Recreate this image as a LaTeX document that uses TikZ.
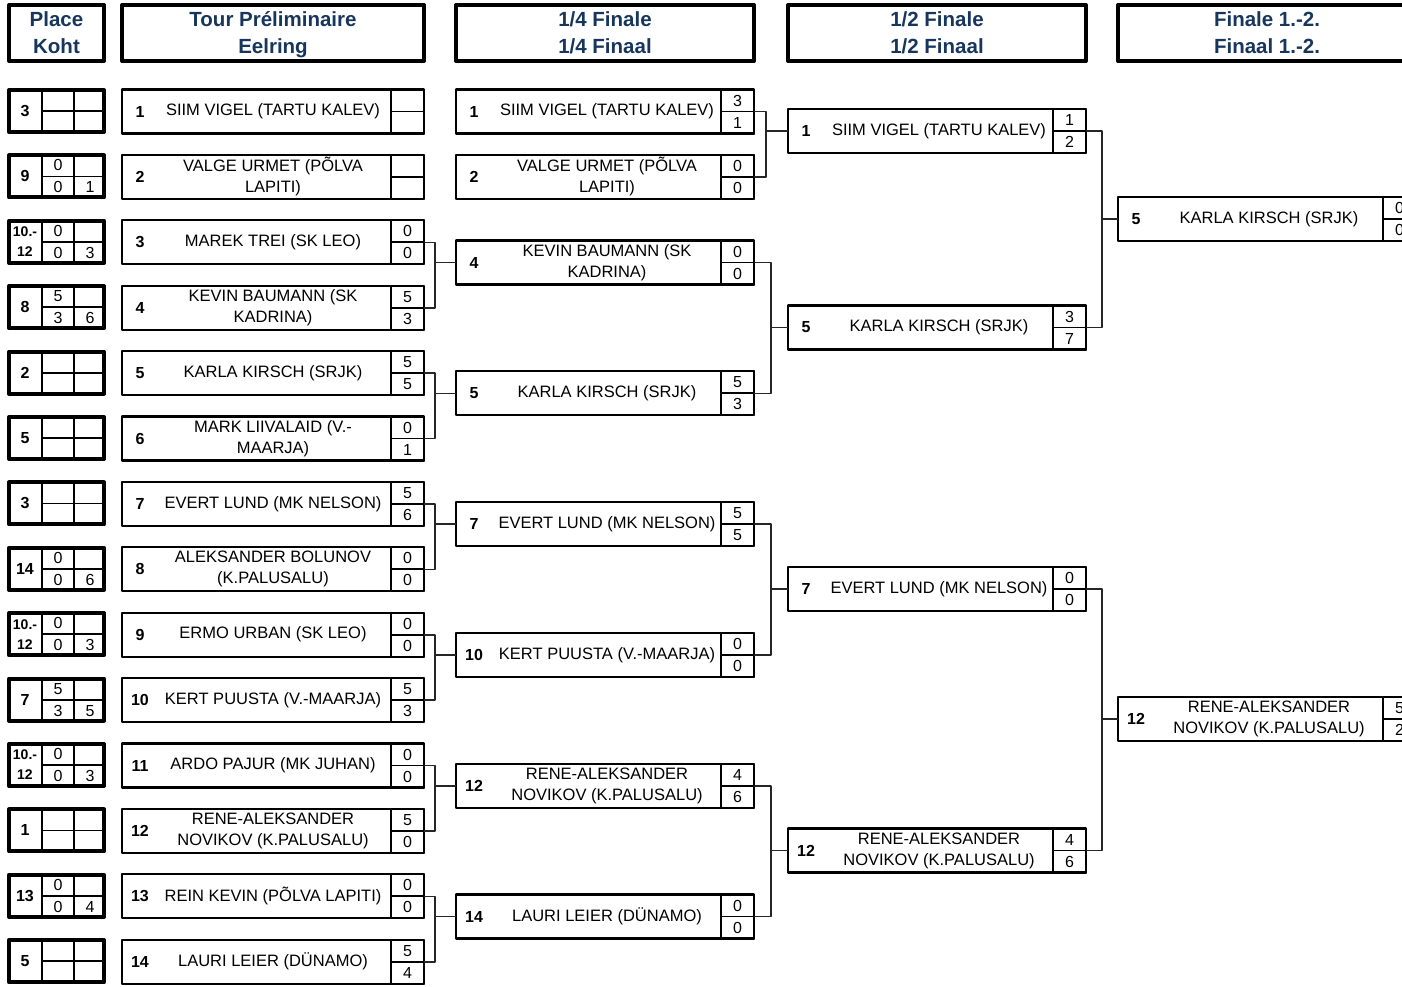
\documentclass[tikz,border=0pt]{standalone}
\usepackage{fontspec}
\setmainfont{Liberation Sans}
\usetikzlibrary{positioning, calc}
\definecolor{head_blue}{RGB}{23,54,93}
\tikzset{
	hdr/.style={draw, line width=4pt, minimum height=56pt, anchor=north west, inner sep=0pt, outer sep=0pt, align=center, text=head_blue, font=\fontsize{20.5}{27}\selectfont\bfseries},
	plbox/.style={draw, line width=4pt, minimum width=95pt, minimum height=42pt, anchor=north west, inner sep=0pt, outer sep=0pt},
	pbox/.style={draw, line width=2.2pt, minimum height=44pt, anchor=north west, inner sep=0pt, outer sep=0pt},
	scell/.style={draw, line width=2pt, minimum width=33pt, minimum height=44pt, anchor=north east, inner sep=0pt, outer sep=0pt},
	cellline/.style={line width=1.8pt},
	conn/.style={line width=1.6pt, black!85},
	pname/.style={align=center, inner sep=0pt, font=\fontsize{16.5}{21}\selectfont},
	seedno/.style={inner sep=0pt, font=\fontsize{16}{20}\selectfont\bfseries},
	sc/.style={inner sep=0pt, font=\fontsize{16}{20}\selectfont}
}
% player box: [width]{name}{x}{top}{seed}{text}{score a}{score b}
\newcommand{\pl}[8][298]{%
	\node[pbox, minimum width=#1] (#2) at (#3,{#4}) {};
	\node[scell] (#2s) at (#2.north east) {};
	\draw[cellline] (#2s.west) -- (#2s.east);
	\node[seedno] (#2n) at ([xshift=18]#2.west) {#5};
	\node[pname] (#2t) at ([xshift=151]#2.west) {#6};
	\node[sc] (#2a) at ([yshift=-11]#2s.north) {#7};
	\node[sc] (#2b) at ([yshift=11]#2s.south) {#8};
}

\begin{document}
\begin{tikzpicture}[x=1pt, y=-1pt, line join=round]
	\clip (0,0) rectangle (1402,986);

	\node[hdr, minimum width=95pt] (hPlace) at (9,5) {Place\\Koht};
	\node[hdr, minimum width=302pt] (hTour) at (122,5) {Tour Pr\smash{é}liminaire\\\smash{Eelring}};
	\node[hdr, minimum width=298pt] (hQuart) at (456,5) {1/4 Finale\\1/4 Finaal};
	\node[hdr, minimum width=298pt] (hSemi) at (788,5) {1/2 Finale\\1/2 Finaal};
	\node[hdr, minimum width=298pt] (hFinal) at (1118,5) {Finale 1.-2.\\Finaal 1.-2.};

	% places
	\foreach \i/\pn/\fs/\ta/\ba/\bb in {1/3/16/{}/{}/{}, 2/9/16/0/0/1, 3/{10.-\\12}/14/0/0/3, 4/8/16/5/3/6,
		5/2/16/{}/{}/{}, 6/5/16/{}/{}/{}, 7/3/16/{}/{}/{}, 8/14/16/0/0/6, 9/{10.-\\12}/14/0/0/3,
		10/7/16/5/3/5, 11/{10.-\\12}/14/0/0/3, 12/1/16/{}/{}/{}, 13/13/16/0/0/4, 14/5/16/{}/{}/{}}{
		\node[plbox] (p\i) at (9,{90+65.4*(\i-1)}) {};
		\draw[cellline] ([xshift=33]p\i.north west) -- ([xshift=33]p\i.south west)
			([xshift=65]p\i.north west) -- ([xshift=65]p\i.south west)
			([xshift=33]p\i.west) -- (p\i.east);
		\node[seedno, align=center, font=\fontsize{\fs}{20}\selectfont\bfseries] (p\i n) at ([xshift=16]p\i.west) {\pn};
		\node[sc] (p\i a) at ([xshift=49,yshift=11]p\i.west) {\ta};
		\node[sc] (p\i b) at ([xshift=49,yshift=-11]p\i.west) {\ba};
		\node[sc] (p\i c) at ([xshift=81,yshift=-11]p\i.west) {\bb};
	}

	% preliminary round
	\foreach \i/\nm/\a/\b in {1/{SIIM VIGEL (TARTU KALEV)}/{}/{}, 2/{VALGE URMET (PÕLVA\\LAPITI)}/{}/{},
		3/{MAREK TREI (SK LEO)}/0/0, 4/{KEVIN BAUMANN (SK\\KADRINA)}/5/3,
		5/{KARLA KIRSCH (SRJK)}/5/5, 6/{MARK LIIVALAID (V.-\\MAARJA)}/0/1,
		7/{EVERT LUND (MK NELSON)}/5/6, 8/{ALEKSANDER BOLUNOV\\(K.PALUSALU)}/0/0,
		9/{ERMO URBAN (SK LEO)}/0/0, 10/{KERT PUUSTA (V.-MAARJA)}/5/3,
		11/{ARDO PAJUR (MK JUHAN)}/0/0, 12/{RENE-ALEKSANDER\\NOVIKOV (K.PALUSALU)}/5/0,
		13/{REIN KEVIN (PÕLVA LAPITI)}/0/0, 14/{LAURI LEIER (DÜNAMO)}/5/4}
		\pl[302]{t\i}{122}{89.5+65.4*(\i-1)}{\i}{\nm}{\a}{\b};

	% quarter finals
	\pl{q1}{456}{89.5}{1}{SIIM VIGEL (TARTU KALEV)}{3}{1}
	\pl{q2}{456}{154.9}{2}{VALGE URMET (PÕLVA\\LAPITI)}{0}{0}
	\pl{q3}{456}{240.5}{4}{KEVIN BAUMANN (SK\\KADRINA)}{0}{0}
	\pl{q4}{456}{371.3}{5}{KARLA KIRSCH (SRJK)}{5}{3}
	\pl{q5}{456}{502.1}{7}{EVERT LUND (MK NELSON)}{5}{5}
	\pl{q6}{456}{632.9}{10}{KERT PUUSTA (V.-MAARJA)}{0}{0}
	\pl{q7}{456}{763.7}{12}{RENE-ALEKSANDER\\NOVIKOV (K.PALUSALU)}{4}{6}
	\pl{q8}{456}{894.5}{14}{LAURI LEIER (DÜNAMO)}{0}{0}

	% semi finals
	\pl{s1}{788}{109}{1}{SIIM VIGEL (TARTU KALEV)}{1}{2}
	\pl{s2}{788}{305.5}{5}{KARLA KIRSCH (SRJK)}{3}{7}
	\pl{s3}{788}{567}{7}{EVERT LUND (MK NELSON)}{0}{0}
	\pl{s4}{788}{828.5}{12}{RENE-ALEKSANDER\\NOVIKOV (K.PALUSALU)}{4}{6}

	% final
	\pl{f1}{1118}{197}{5}{KARLA KIRSCH (SRJK)}{0}{0}
	\pl{f2}{1118}{697}{12}{RENE-ALEKSANDER\\NOVIKOV (K.PALUSALU)}{5}{2}

	% brackets
	\foreach \a/\b/\c in {3/4/3, 5/6/4, 7/8/5, 9/10/6, 11/12/7, 13/14/8}{
		\draw[conn] (t\a s.east) -- ++(11,0) coordinate (m\c) |- (t\b s.east);
		\draw[conn] (q\c.west) -- (q\c.west -| m\c);
	}
	\foreach \a/\b/\c/\d in {1/2/1/12, 3/4/2/17, 5/6/3/17, 7/8/4/17}{
		\draw[conn] (q\a s.east) -- ++(\d,0) coordinate (n\c) |- (q\b s.east);
		\draw[conn] (s\c.west) -- (s\c.west -| n\c);
	}
	\foreach \a/\b/\c in {1/2/1, 3/4/2}{
		\draw[conn] (s\a s.east) -- ++(16,0) coordinate (k\c) |- (s\b s.east);
		\draw[conn] (f\c.west) -- (f\c.west -| k\c);
	}
\end{tikzpicture}
\end{document}
